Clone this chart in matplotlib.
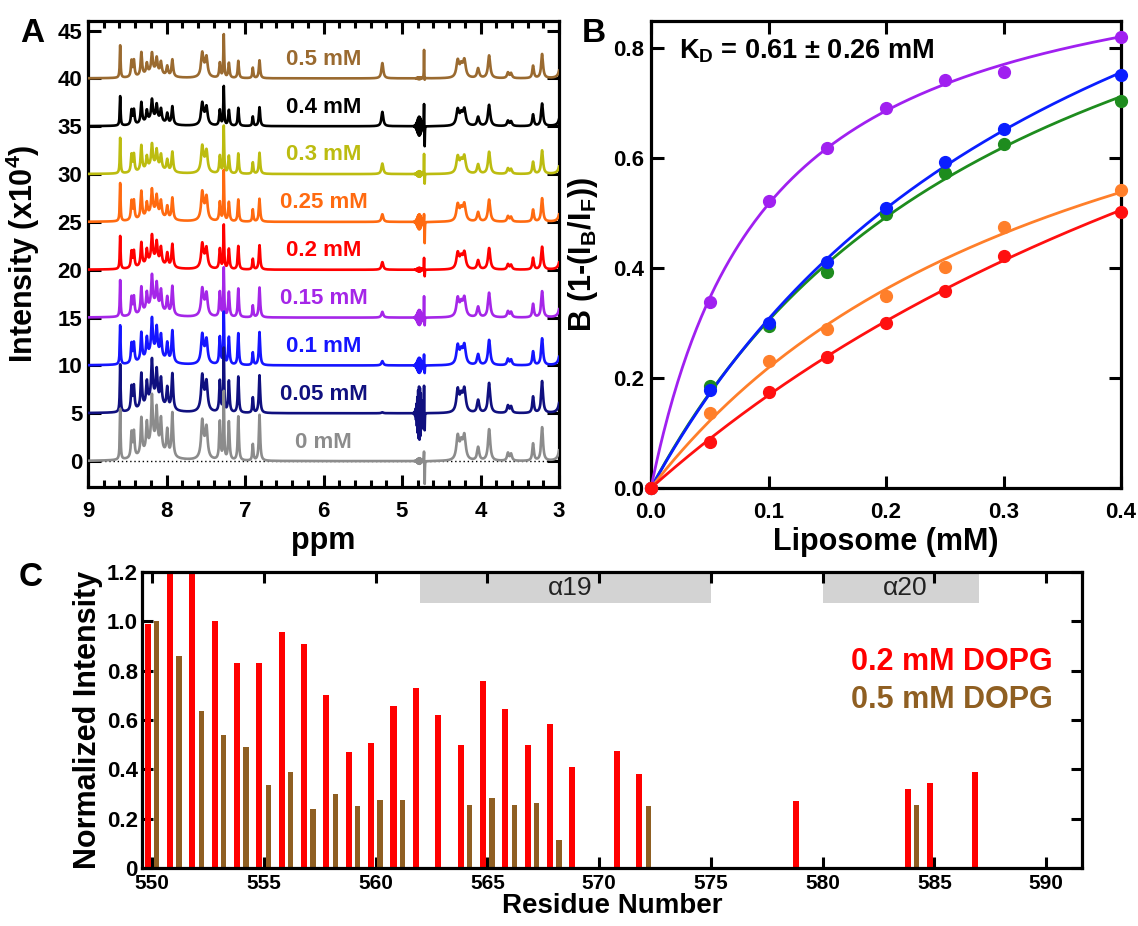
import numpy as np
import matplotlib
matplotlib.use("Agg")
import matplotlib.pyplot as plt
from matplotlib.ticker import MultipleLocator, FixedLocator, FixedFormatter

plt.rcParams['font.family'] = ['Liberation Sans', 'DejaVu Sans']
plt.rcParams['font.weight'] = 'bold'
plt.rcParams['axes.labelweight'] = 'bold'
plt.rcParams['mathtext.fontset'] = 'custom'
plt.rcParams['mathtext.rm'] = 'Liberation Sans:bold'
plt.rcParams['mathtext.it'] = 'Liberation Sans:bold'
plt.rcParams['mathtext.bf'] = 'Liberation Sans:bold'
plt.rcParams['mathtext.default'] = 'rm'

# ---------------- Panel A data (1H NMR spectra) ----------------
conc_labels = ['0 mM', '0.05 mM', '0.1 mM', '0.15 mM', '0.2 mM',
               '0.25 mM', '0.3 mM', '0.4 mM', '0.5 mM']
offsets = [0, 5, 10, 15, 20, 25, 30, 35, 40]
spec_colors = ['#8c8c8c', '#10107f', '#1515ff', '#a526e8', '#ff0000',
               '#ff6a10', '#bcbc10', '#000000', '#9a6a30']

# peak table of the free protein spectrum (0 mM)
peak_ppm = [8.59, 8.445, 8.415, 8.32, 8.25, 8.185, 8.125, 8.07, 7.99, 7.925, 8.16,
            7.545, 7.49, 7.52, 7.32, 7.27, 7.205, 7.085, 6.90, 6.815,
            4.29, 4.245, 4.205, 4.03, 3.89, 3.65, 3.61, 3.33, 3.215, 2.965]
peak_height = [5.3, 2.6, 2.6, 3.8, 2.8, 5.0, 3.8, 3.2, 2.6, 4.6, 1.8,
               3.4, 2.8, 1.0, 4.0, 7.0, 4.0, 4.6, 1.7, 4.8,
               2.4, 1.6, 2.4, 1.4, 3.3, 0.8, 0.7, 1.8, 3.5, 7.0]
peak_hwhm = [0.006, 0.010, 0.010, 0.011, 0.011, 0.012, 0.012, 0.012, 0.012, 0.012, 0.12,
             0.016, 0.016, 0.04, 0.010, 0.006, 0.010, 0.009, 0.008, 0.010,
             0.020, 0.022, 0.020, 0.016, 0.017, 0.014, 0.014, 0.012, 0.014, 0.015]
peak_group = ['s', 's', 's', 's', 'b', 'b', 'b', 'b', 'b', 'b', 'b',
              's', 's', 's', 'b', 's', 'b', 'b', 's', 'b',
              'a', 'a', 'a', 'a', 'a', 'a', 'a', 'a', 'a', 'a']
# relative intensity of each peak group in each spectrum
scale_s = [1.0, 0.94, 0.77, 0.72, 0.65, 0.75, 0.70, 0.58, 0.64]
scale_b = [1.0, 0.82, 0.72, 0.65, 0.53, 0.50, 0.46, 0.41, 0.39]
scale_a = [1.0, 0.95, 0.80, 0.78, 0.68, 0.70, 0.70, 0.67, 0.72]
# lipid olefinic peak
lipid_ppm = 5.25
lipid_height = [0.0, 0.1, 0.45, 0.6, 0.8, 0.8, 1.1, 1.5, 1.6]
# residual water artefact
water_ppm = 4.715
water_up = [1.2, 3.0, 1.2, 2.3, 1.3, 1.0, 2.2, 2.5, 3.0]
water_down = [2.5, 2.0, 0.9, 1.0, 0.8, 2.3, 1.2, 2.3, 0.4]
water_ring = [0.3, 2.8, 0.8, 0.8, 0.2, 0.8, 0.3, 1.0, 0.1]

# ---------------- Panel B data ----------------
lipo_mM = [0, 0.05, 0.1, 0.15, 0.2, 0.25, 0.3, 0.4]
B_purple = [0, 0.338, 0.523, 0.619, 0.692, 0.743, 0.758, 0.821]
B_blue = [0, 0.178, 0.300, 0.412, 0.510, 0.594, 0.654, 0.751]
B_green = [0, 0.186, 0.294, 0.394, 0.499, 0.574, 0.626, 0.704]
B_orange = [0, 0.137, 0.231, 0.290, 0.350, 0.403, 0.475, 0.543]
B_red = [0, 0.083, 0.175, 0.239, 0.301, 0.358, 0.422, 0.503]
B_series = [B_green, B_blue, B_purple, B_orange, B_red]
B_colors = ['#1e8c1e', '#0a1eff', '#a020f0', '#ff7f2a', '#ff1010']
kd_text = r'K$_\mathrm{D}$ = 0.61 ± 0.26 mM'

# ---------------- Panel C data ----------------
red_res = [550, 551, 552, 553, 554, 555, 556, 557, 558, 559, 560, 561, 562, 563,
           564, 565, 566, 567, 568, 569, 571, 572, 579, 584, 585, 587]
red_val = [0.99, 1.25, 1.25, 1.0, 0.83, 0.83, 0.955, 0.91, 0.70, 0.47, 0.505, 0.655,
           0.73, 0.62, 0.50, 0.76, 0.645, 0.50, 0.585, 0.41, 0.475, 0.38, 0.27,
           0.32, 0.345, 0.39]
brown_res = [550, 551, 552, 553, 554, 555, 556, 557, 558, 559, 560, 561, 564, 565,
             566, 567, 568, 572, 584]
brown_val = [1.0, 0.86, 0.635, 0.54, 0.49, 0.335, 0.39, 0.24, 0.30, 0.25, 0.275, 0.275,
             0.255, 0.285, 0.255, 0.265, 0.115, 0.25, 0.255]
helix_names = ['α19', 'α20']
helix_start = [562, 580]
helix_end = [575, 587]
red_c = '#ff0000'
brown_c = '#8f5f22'

# ---------------- figure ----------------
W, H = 1138, 926
fig = plt.figure(figsize=(W / 100, H / 100), dpi=100)


def px_axes(l, t, r, b):
    return fig.add_axes([l / W, 1 - b / H, (r - l) / W, (b - t) / H])


SPW = 2.3
LABFS = 22
for_ticks = dict(direction='in', width=2.2, colors='black')


def style(ax):
    for s in ax.spines.values():
        s.set_linewidth(SPW)


def bold_ticks(ax, size):
    for t in ax.get_xticklabels() + ax.get_yticklabels():
        t.set_fontweight('bold')
        t.set_fontsize(size)


# ---- Panel A ----
axA = px_axes(88, 21, 559, 487)
style(axA)
x = np.linspace(2.9, 9.1, 14000)
grp = {'s': scale_s, 'b': scale_b, 'a': scale_a}


def lor(x0, h, w):
    return h * w ** 2 / ((x - x0) ** 2 + w ** 2)


axA.axhline(0, color='black', lw=1.0, ls=(0, (1, 2)), zorder=1)
for i in reversed(range(len(offsets))):
    y = np.zeros_like(x)
    for p, h, w, g in zip(peak_ppm, peak_height, peak_hwhm, peak_group):
        y += lor(p, h * grp[g][i], w)
    y += lor(lipid_ppm, lipid_height[i], 0.014)
    y += lor(water_ppm + 0.004, water_up[i], 0.0025)
    y -= lor(water_ppm - 0.004, water_down[i], 0.0025)
    y += water_ring[i] * np.sin((x - 4.78) * 2 * np.pi / 0.011) * np.exp(-((x - 4.78) / 0.035) ** 2)
    axA.plot(x, y + offsets[i], color=spec_colors[i], lw=1.9, zorder=2 + (9 - i))
    axA.text(6.0, offsets[i] + 2.0, conc_labels[i], color=spec_colors[i], fontsize=16,
             fontweight='bold', ha='center', va='center', zorder=20)
axA.set_xlim(9, 3)
axA.set_ylim(-2.7, 46)
axA.xaxis.set_major_locator(MultipleLocator(1))
axA.xaxis.set_minor_locator(MultipleLocator(0.2))
axA.yaxis.set_major_locator(MultipleLocator(5))
axA.tick_params(which='major', length=9, top=True, right=True, **for_ticks)
axA.tick_params(which='minor', length=5, top=True, right=True, **for_ticks)
axA.tick_params(axis='x', pad=10)
axA.tick_params(axis='y', pad=4)
bold_ticks(axA, 16)
axA.set_xlabel('ppm', fontsize=LABFS, fontweight='bold')
axA.xaxis.set_label_coords(0.5, -0.083)
axA.set_ylabel('Intensity (x10$^4$)', fontsize=LABFS, fontweight='bold')
axA.yaxis.set_label_coords(-0.098, 0.5)

# ---- Panel B ----
axB = px_axes(651, 21, 1121, 488)
style(axB)
xf = np.linspace(0, 0.4, 300)
xa = np.array(lipo_mM)
Ks = np.linspace(0.01, 3.0, 3000)
for ys, c in zip(B_series, B_colors):
    ya = np.array(ys)
    best = None
    for K in Ks:
        f = xa / (K + xa)
        bm = np.sum(f * ya) / np.sum(f * f)
        e = np.sum((bm * f - ya) ** 2)
        if best is None or e < best[0]:
            best = (e, K, bm)
    _, K, bm = best
    axB.plot(xf, bm * xf / (K + xf), color=c, lw=2.0, zorder=3)
    axB.plot(xa, ya, 'o', color=c, ms=8.5, zorder=4, clip_on=False)
axB.set_xlim(0, 0.4)
axB.set_ylim(0, 0.85)
axB.xaxis.set_major_locator(FixedLocator([0, 0.1, 0.2, 0.3, 0.4]))
axB.xaxis.set_major_formatter(FixedFormatter(['0.0', '0.1', '0.2', '0.3', '0.4']))
axB.yaxis.set_major_locator(FixedLocator([0, 0.2, 0.4, 0.6, 0.8]))
axB.yaxis.set_major_formatter(FixedFormatter(['0.0', '0.2', '0.4', '0.6', '0.8']))
axB.tick_params(which='major', length=9, top=True, right=True, **for_ticks)
axB.tick_params(axis='x', pad=10)
axB.tick_params(axis='y', pad=5)
bold_ticks(axB, 16)
axB.set_xlabel('Liposome (mM)', fontsize=LABFS, fontweight='bold')
axB.xaxis.set_label_coords(0.5, -0.083)
axB.set_ylabel('B (1-(I$_\\mathrm{B}$/I$_\\mathrm{F}$))', fontsize=LABFS, fontweight='bold')
axB.yaxis.set_label_coords(-0.108, 0.5)
axB.text(0.06, 0.935, kd_text, transform=axB.transAxes, fontsize=19.5,
         fontweight='bold', ha='left', va='center')

# ---- Panel C ----
axC = px_axes(142, 572, 1082, 868)
style(axC)
axC.bar(np.array(red_res) - 0.2, red_val, width=0.27, color=red_c, zorder=2)
axC.bar(np.array(brown_res) + 0.2, brown_val, width=0.24, color=brown_c, zorder=2)
for nm, s, e in zip(helix_names, helix_start, helix_end):
    axC.fill_between([s, e], 1.075, 1.2, color='#d3d3d3', lw=0, zorder=1)
    axC.text((s + e) / 2 + 0.2, 1.135, nm, ha='center', va='center', fontsize=19,
             fontweight='normal', color='#222222', zorder=3)
axC.text(590.3, 0.837, '0.2 mM DOPG', color=red_c, fontsize=22, fontweight='bold',
         ha='right', va='center')
axC.text(590.3, 0.68, '0.5 mM DOPG', color=brown_c, fontsize=22, fontweight='bold',
         ha='right', va='center')
axC.set_xlim(549.55, 591.6)
axC.set_ylim(0, 1.2)
axC.xaxis.set_major_locator(MultipleLocator(5))
axC.yaxis.set_major_locator(FixedLocator([0, 0.2, 0.4, 0.6, 0.8, 1.0, 1.2]))
axC.yaxis.set_major_formatter(FixedFormatter(['0', '0.2', '0.4', '0.6', '0.8', '1.0', '1.2']))
axC.tick_params(which='major', length=8, top=True, right=True, **for_ticks)
axC.tick_params(axis='x', pad=4)
axC.tick_params(axis='y', pad=3)
bold_ticks(axC, 16)
for t in axC.get_xticklabels():
    t.set_fontsize(15)
axC.set_xlabel('Residue Number', fontsize=20, fontweight='bold')
axC.xaxis.set_label_coords(0.5, -0.085)
axC.set_ylabel('Normalized Intensity', fontsize=LABFS, fontweight='bold')
axC.yaxis.set_label_coords(-0.0415, 0.5)

# panel letters
fig.text(20 / W, 1 - 18 / H, 'A', fontsize=24, fontweight='bold', ha='left', va='top')
fig.text(582 / W, 1 - 18 / H, 'B', fontsize=24, fontweight='bold', ha='left', va='top')
fig.text(19 / W, 1 - 562 / H, 'C', fontsize=24, fontweight='bold', ha='left', va='top')

fig.savefig('out.png', dpi=100)
